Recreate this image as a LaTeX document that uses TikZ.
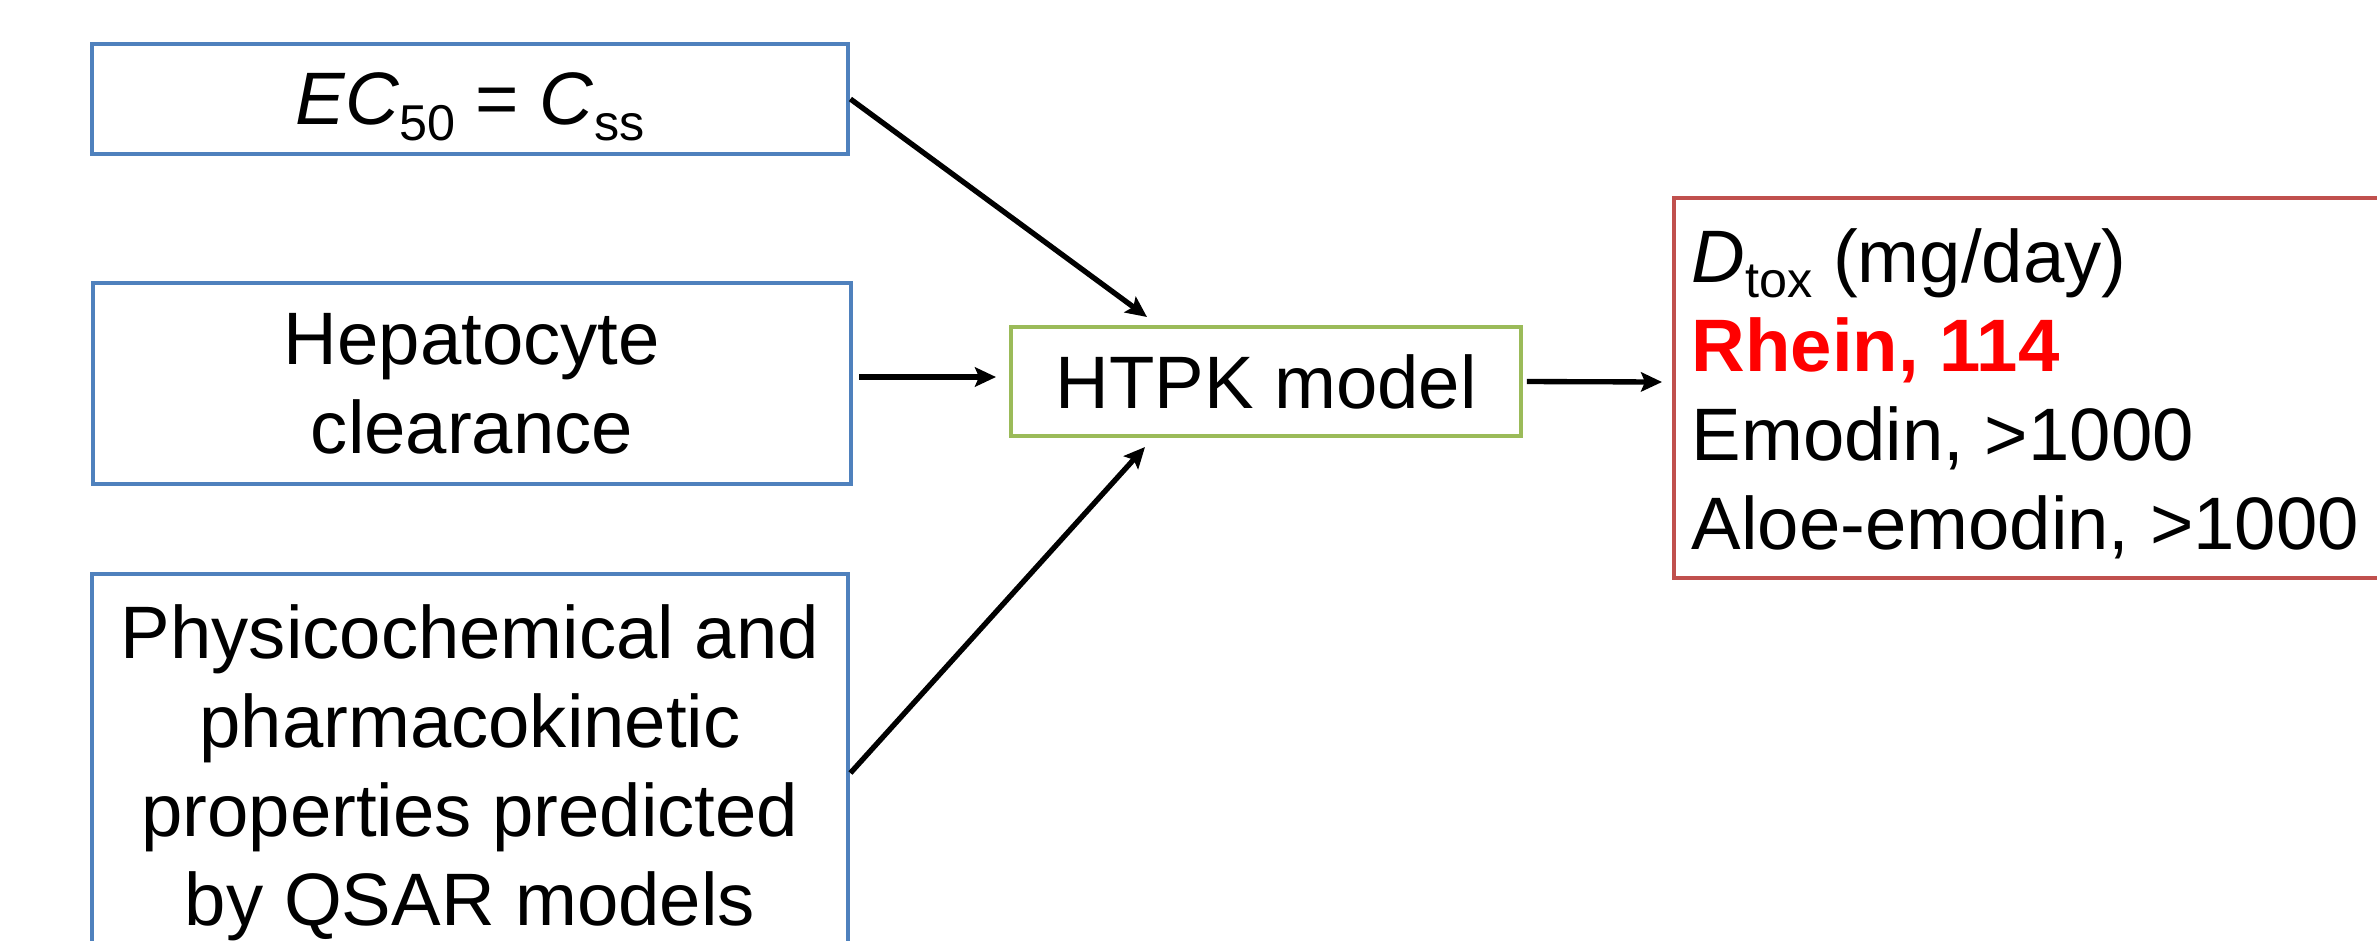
\documentclass[tikz,border=0pt]{standalone}
\usepackage{fontspec}
\setmainfont{Liberation Sans}
\usetikzlibrary{arrows.meta}
\definecolor{boxblue}{HTML}{4F81BD}
\definecolor{boxgreen}{HTML}{9BBB59}
\definecolor{boxred}{HTML}{C0504D}
\definecolor{hired}{HTML}{FF0000}
\newcommand\lowsub[1]{\raisebox{-4.6pt}{\fontsize{15.1}{15}\selectfont #1}}
\tikzset{
  box/.style={draw, line width=1.45pt, inner sep=0pt, align=center},
  bluebox/.style={box, draw=boxblue},
  arr/.style={line width=1.6pt, -{Stealth[length=6.3pt,width=5.8pt,inset=1.2pt]}},
}
\begin{document}
\begin{tikzpicture}[x=0.3pt,y=-0.3pt,font=\fontsize{22.3}{26.7}\selectfont]
\useasboundingbox (0,0) rectangle (2377,940);
\node[bluebox, minimum width=226.8pt, minimum height=33pt, text depth=0pt] (ec) at (470,99)
  {\textit{EC}\lowsub{50} = \textit{C}\lowsub{ss}};
\node[bluebox, minimum width=227.4pt, minimum height=60.3pt] (hep) at (472,383.5)
  {Hepatocyte\\clearance};
\node[bluebox, minimum width=226.8pt, minimum height=119.4pt] (phys) at (470,773)
  {Physicochemical and\\pharmacokinetic\\properties predicted\\by QSAR models};
\node[box, draw=boxgreen, minimum width=153pt, minimum height=32.7pt] (htpk) at (1266,381.5)
  {HTPK model};
\node[box, draw=boxred, minimum width=216.6pt, minimum height=114pt] (res) at (2035,388) {};
\node[inner sep=0pt, align=left, anchor=west] (restext) at (1691,393.5)
  {\textit{D}\lowsub{tox} (mg/day)\\
   \textcolor{hired}{\textbf{Rhein, 114}}\\
   Emodin, >1000\\
   Aloe-emodin, >1000};
\coordinate (t1) at (1147,317);
\coordinate (t2) at (996,377);
\coordinate (t3) at (1145,447);
\coordinate (t4) at (1662,382);
\draw[arr] (ec.east) -- (t1);
\draw[arr, shorten <=1.8pt] (hep.east |- t2) -- (t2);
\draw[arr] (phys.east) -- (t3);
\draw[arr, shorten <=1pt] (htpk.east) -- (t4);
\end{tikzpicture}
\end{document}
